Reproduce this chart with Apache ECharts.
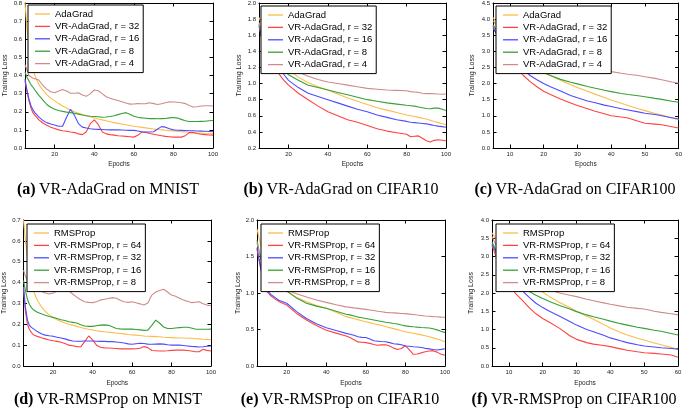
<!DOCTYPE html>
<html><head><meta charset="utf-8">
<script src="https://cdn.jsdelivr.net/npm/echarts@6/dist/echarts.min.js"></script>
<style>html,body{margin:0;padding:0;background:#fff}#c{width:685px;height:416px}</style>
</head><body><div id="c"></div>
<script>
// ---------------- data ----------------
const NAMES_ADA = ['AdaGrad', 'VR-AdaGrad, r = 32', 'VR-AdaGrad, r = 16', 'VR-AdaGrad, r = 8', 'VR-AdaGrad, r = 4'];
const NAMES_RMS = ['RMSProp', 'VR-RMSProp, r = 64', 'VR-RMSProp, r = 32', 'VR-RMSProp, r = 16', 'VR-RMSProp, r = 8'];
const CAPTIONS = [['(a)', 'VR-AdaGrad on MNIST'], ['(b)', 'VR-AdaGrad on CIFAR10'], ['(c)', 'VR-AdaGrad on CIFAR100'],
                  ['(d)', 'VR-RMSProp on MNIST'], ['(e)', 'VR-RMSProp on CIFAR10'], ['(f)', 'VR-RMSProp on CIFAR100']];

const EPOCHS_MNIST = [5,6,7,8,9,10,12,14,16,18,20,22,24,26,28,30,32,34,36,38,40,42,44,46,48,50,52,54,56,58,60,62,64,66,68,70,72,74,76,78,80,82,84,86,88,90,92,94,96,98,100];
const EPOCHS_C10A = [5,6,7,8,9,10,12,14,16,18,20,25,30,35,40,45,50,55,60,65,70,75,80,82,84,86,88,90,92,94,96,98,100];
const EPOCHS_C10R = [5,6,7,8,9,10,12,14,16,18,20,25,30,35,40,45,50,52,54,56,58,60,62,64,66,68,70,72,74,76,78,80,82,84,86,88,90,92,94,96,98,100];
const EPOCHS_C100 = [5,6,7,8,10,12,14,16,18,20,22,25,28,30,33,35,38,40,43,45,48,50,53,55,58,60];

const X_TICKS_100 = [20, 40, 60, 80, 100];
const X_TICKS_60 = [10, 20, 30, 40, 50, 60];

// (a) AdaGrad on MNIST
const A_BASE = [0.8,0.66,0.56,0.49,0.44,0.4, 0.35,0.32,0.295,0.275,0.26, 0.245,0.232,0.22,0.21,0.2,0.192,0.185,0.178,0.172,0.166, 0.16,0.155,0.15,0.145,0.14,0.136,0.132,0.128,0.124,0.12, 0.117,0.114,0.111,0.108,0.105,0.102,0.1,0.098,0.096,0.094, 0.092,0.09,0.088,0.087,0.085,0.083,0.082,0.08,0.079,0.078];
const A_R32 = [0.37,0.31,0.26,0.22,0.195,0.18, 0.155,0.138,0.125,0.115,0.108, 0.1,0.095,0.092,0.088,0.085,0.078,0.074,0.09,0.135,0.155, 0.13,0.09,0.078,0.074,0.071,0.068,0.066,0.064,0.062,0.06, 0.07,0.088,0.086,0.08,0.076,0.072,0.068,0.064,0.062,0.06, 0.06,0.06,0.068,0.085,0.086,0.08,0.076,0.074,0.072,0.071];
const A_R16 = [0.38,0.32,0.27,0.235,0.21,0.195, 0.17,0.152,0.14,0.132,0.127, 0.12,0.12,0.17,0.214,0.18,0.135,0.115,0.11,0.106,0.104, 0.103,0.102,0.101,0.1,0.1,0.1,0.099,0.098,0.097,0.097, 0.094,0.09,0.088,0.088,0.09,0.105,0.118,0.115,0.106,0.1, 0.098,0.097,0.096,0.095,0.095,0.094,0.093,0.092,0.091,0.09];
const A_R8 = [0.42,0.39,0.37,0.35,0.335,0.32, 0.29,0.265,0.24,0.225,0.214, 0.207,0.202,0.198,0.195,0.192,0.187,0.182,0.178,0.175,0.174, 0.172,0.17,0.171,0.174,0.178,0.184,0.19,0.195,0.186,0.175, 0.17,0.166,0.164,0.162,0.162,0.161,0.162,0.163,0.166,0.168, 0.165,0.158,0.15,0.146,0.146,0.146,0.147,0.148,0.15,0.152];
const A_R4 = [0.46,0.43,0.4,0.39,0.385,0.388, 0.375,0.345,0.325,0.31,0.305, 0.315,0.323,0.315,0.302,0.302,0.305,0.292,0.285,0.3,0.32, 0.316,0.3,0.283,0.275,0.268,0.262,0.255,0.248,0.242,0.243, 0.245,0.244,0.245,0.25,0.245,0.24,0.244,0.25,0.255,0.254, 0.252,0.25,0.245,0.235,0.226,0.228,0.232,0.233,0.233,0.232];

// (b) AdaGrad on CIFAR10
const B_BASE = [1.82,1.76,1.68,1.6,1.53,1.47,1.38,1.31,1.26,1.21,1.17, 1.08,1.01,0.96,0.92,0.87,0.82,0.78,0.74,0.7,0.67,0.64,0.61, 0.6,0.59,0.58,0.57,0.56,0.545,0.53,0.515,0.5,0.49];
const B_R32 = [1.72,1.6,1.52,1.45,1.39,1.34,1.24,1.16,1.09,1.03,0.98, 0.88,0.8,0.72,0.65,0.6,0.55,0.52,0.48,0.44,0.41,0.39,0.37, 0.34,0.345,0.35,0.32,0.29,0.275,0.295,0.303,0.297,0.29];
const B_R16 = [1.72,1.62,1.55,1.48,1.43,1.39,1.31,1.24,1.17,1.1,1.04, 0.95,0.88,0.84,0.8,0.76,0.72,0.68,0.65,0.61,0.58,0.55,0.53, 0.52,0.515,0.51,0.505,0.5,0.49,0.48,0.472,0.465,0.458];
const B_R8 = [1.74,1.65,1.58,1.5,1.45,1.4,1.32,1.26,1.2,1.15,1.11, 1.04,0.98,0.95,0.92,0.89,0.86,0.83,0.8,0.78,0.76,0.745,0.73, 0.725,0.72,0.71,0.7,0.69,0.688,0.695,0.695,0.68,0.665];
const B_R4 = [1.76,1.68,1.6,1.53,1.48,1.44,1.37,1.31,1.27,1.23,1.2, 1.14,1.09,1.05,1.02,1.0,0.98,0.96,0.94,0.93,0.92,0.915,0.91, 0.9,0.895,0.89,0.88,0.875,0.875,0.874,0.87,0.868,0.87];

// (c) AdaGrad on CIFAR100
const C_BASE = [4.05,3.9,3.74,3.58,3.3,3.05,2.85,2.66,2.5,2.37,2.25,2.1,1.96,1.88,1.76,1.68,1.57,1.49,1.39,1.32,1.22,1.16,1.07,1.02,0.93,0.875];
const C_R32 = [3.78,3.55,3.33,3.13,2.8,2.5,2.25,2.06,1.9,1.76,1.66,1.52,1.4,1.32,1.22,1.15,1.06,1.0,0.96,0.93,0.83,0.77,0.74,0.72,0.66,0.62];
const C_R16 = [3.72,3.55,3.38,3.22,2.95,2.68,2.42,2.25,2.12,2.0,1.9,1.77,1.63,1.56,1.46,1.41,1.33,1.29,1.22,1.18,1.12,1.08,1.04,1.0,0.94,0.9];
const C_R8 = [3.82,3.66,3.5,3.36,3.1,2.88,2.7,2.56,2.44,2.34,2.25,2.13,2.04,1.99,1.91,1.86,1.79,1.75,1.69,1.66,1.62,1.59,1.54,1.51,1.45,1.42];
const C_R4 = [3.95,3.82,3.7,3.6,3.4,3.22,3.08,2.96,2.86,2.78,2.71,2.62,2.54,2.5,2.45,2.42,2.39,2.37,2.32,2.29,2.25,2.21,2.16,2.12,2.05,2.01];

// (d) RMSProp on MNIST
const D_BASE = [0.7,0.6,0.52,0.45,0.4,0.36, 0.315,0.285,0.262,0.245,0.232, 0.222,0.213,0.206,0.2,0.196,0.19,0.185,0.18,0.176,0.173, 0.169,0.166,0.164,0.162,0.16,0.158,0.156,0.154,0.151,0.149, 0.148,0.146,0.144,0.143,0.142,0.141,0.14,0.138,0.137,0.136, 0.135,0.134,0.134,0.133,0.133,0.131,0.13,0.128,0.127,0.126];
const D_R64 = [0.37,0.26,0.2,0.175,0.16,0.15, 0.142,0.135,0.13,0.125,0.121, 0.118,0.114,0.108,0.1,0.097,0.093,0.092,0.117,0.144,0.125, 0.1,0.09,0.087,0.086,0.085,0.084,0.082,0.082,0.082,0.082, 0.083,0.085,0.093,0.088,0.074,0.073,0.072,0.072,0.073,0.075, 0.076,0.077,0.076,0.074,0.072,0.068,0.068,0.08,0.075,0.072];
const D_R32 = [0.38,0.28,0.22,0.195,0.185,0.178, 0.165,0.155,0.148,0.145,0.143, 0.138,0.134,0.13,0.124,0.12,0.119,0.119,0.12,0.12,0.12, 0.119,0.118,0.118,0.117,0.117,0.115,0.113,0.11,0.106,0.104, 0.107,0.109,0.108,0.105,0.104,0.105,0.106,0.105,0.102,0.1, 0.1,0.1,0.098,0.096,0.094,0.093,0.091,0.092,0.095,0.096];
const D_R16 = [0.41,0.36,0.32,0.295,0.28,0.27, 0.258,0.25,0.243,0.237,0.233, 0.228,0.222,0.218,0.212,0.209,0.206,0.198,0.192,0.19,0.19, 0.193,0.196,0.197,0.195,0.188,0.18,0.178,0.177,0.177,0.177, 0.175,0.173,0.171,0.172,0.195,0.22,0.205,0.187,0.18,0.18, 0.182,0.184,0.186,0.186,0.182,0.177,0.176,0.176,0.176,0.177];
const D_R8 = [0.46,0.43,0.41,0.395,0.383,0.372, 0.368,0.358,0.35,0.345,0.35, 0.36,0.365,0.368,0.36,0.344,0.33,0.318,0.308,0.305,0.304, 0.308,0.316,0.32,0.324,0.328,0.325,0.315,0.308,0.305,0.308, 0.303,0.298,0.292,0.302,0.34,0.355,0.362,0.368,0.355,0.34, 0.334,0.325,0.316,0.31,0.304,0.306,0.308,0.298,0.292,0.289];

// (e) RMSProp on CIFAR10
const E_BASE = [1.88,1.76,1.64,1.54,1.45,1.38,1.26,1.18,1.11,1.06,1.02, 0.94,0.88,0.83,0.79,0.735,0.676, 0.663,0.65,0.635,0.62,0.607,0.594,0.58,0.567,0.554,0.54,0.526,0.512,0.498,0.484,0.47,0.459,0.448,0.437,0.426,0.415,0.4,0.385,0.37,0.352,0.333];
const E_R64 = [1.6,1.45,1.32,1.2,1.1,1.02,0.96,0.92,0.885,0.86,0.835, 0.72,0.63,0.555,0.49,0.45,0.41, 0.39,0.36,0.33,0.325,0.32,0.31,0.295,0.285,0.29,0.29,0.275,0.245,0.225,0.24,0.28,0.22,0.16,0.165,0.18,0.196,0.205,0.21,0.19,0.16,0.146];
const E_R32 = [1.62,1.47,1.34,1.22,1.12,1.04,0.98,0.94,0.9,0.88,0.86, 0.745,0.65,0.58,0.525,0.485,0.447, 0.435,0.42,0.4,0.392,0.39,0.37,0.345,0.34,0.335,0.333,0.32,0.305,0.3,0.29,0.274,0.27,0.264,0.26,0.253,0.242,0.235,0.226,0.22,0.228,0.237];
const E_R16 = [1.72,1.58,1.46,1.36,1.28,1.2,1.12,1.08,1.06,1.045,1.03, 0.93,0.86,0.82,0.79,0.75,0.71, 0.7,0.685,0.67,0.66,0.65,0.64,0.63,0.62,0.61,0.6,0.592,0.583,0.575,0.562,0.55,0.543,0.537,0.532,0.528,0.525,0.52,0.51,0.495,0.475,0.457];
const E_R8 = [1.68,1.58,1.49,1.41,1.34,1.28,1.2,1.14,1.1,1.07,1.04, 0.99,0.945,0.905,0.872,0.84,0.81, 0.803,0.796,0.79,0.783,0.776,0.768,0.76,0.751,0.743,0.735,0.731,0.728,0.724,0.72,0.717,0.711,0.705,0.698,0.692,0.685,0.681,0.677,0.674,0.67,0.667];

// (f) RMSProp on CIFAR100
const F_BASE = [3.65,3.5,3.36,3.22,2.95,2.7,2.48,2.3,2.14,2.02,1.9,1.74,1.6,1.5,1.36,1.28,1.14,1.04,0.92,0.85,0.76,0.71,0.63,0.58,0.51,0.46];
const F_R64 = [3.3,3.05,2.82,2.6,2.25,1.98,1.8,1.6,1.43,1.3,1.2,1.03,0.83,0.73,0.64,0.6,0.56,0.53,0.47,0.43,0.39,0.365,0.345,0.33,0.3,0.24];
const F_R32 = [3.35,3.15,2.97,2.8,2.5,2.22,2.06,1.88,1.72,1.6,1.5,1.36,1.22,1.12,1.0,0.94,0.84,0.77,0.69,0.64,0.58,0.55,0.52,0.5,0.48,0.46];
const F_R16 = [3.4,3.2,3.05,2.9,2.6,2.36,2.2,2.04,1.94,1.85,1.77,1.66,1.56,1.49,1.4,1.35,1.28,1.23,1.16,1.12,1.06,1.03,0.98,0.95,0.89,0.85];
const F_R8 = [3.55,3.35,3.18,3.02,2.75,2.55,2.38,2.26,2.19,2.13,2.08,2.0,1.94,1.9,1.83,1.79,1.73,1.69,1.64,1.61,1.58,1.56,1.5,1.47,1.43,1.4];

// ---------------- styling / layout ----------------
const COLORS = ['#fbbd4a', '#ff4242', '#4c4cff', '#37a037', '#cf8a8a'];
const SANS = 'Liberation Sans';
const SERIF = 'Liberation Serif';

const PANELS = [
  {grid:{left:25, top:3, width:188, height:145}, ep:EPOCHS_MNIST, ys:[A_BASE,A_R32,A_R16,A_R8,A_R4], names:NAMES_ADA, xmax:100, xt:X_TICKS_100, ymin:0, ymax:0.8, yi:0.1, lg:{left:28, top:5}, ng:16.5, xg:13, cap:{x:108, y:190}},
  {grid:{left:259, top:3, width:187, height:145}, ep:EPOCHS_C10A, ys:[B_BASE,B_R32,B_R16,B_R8,B_R4], names:NAMES_ADA, xmax:100, xt:X_TICKS_100, ymin:0.2, ymax:2.0, yi:0.2, lg:{left:261, top:6}, ng:16.5, xg:13, cap:{x:341, y:190}},
  {grid:{left:493, top:3, width:188, height:145}, ep:EPOCHS_C100, ys:[C_BASE,C_R32,C_R16,C_R8,C_R4], names:NAMES_ADA, xmax:60, xt:X_TICKS_60, ymin:0, ymax:4.5, yi:0.5, lg:{left:496, top:6}, ng:17.5, xg:13, cap:{x:575, y:190}},
  {grid:{left:23, top:220, width:188, height:146}, ep:EPOCHS_MNIST, ys:[D_BASE,D_R64,D_R32,D_R16,D_R8], names:NAMES_RMS, xmax:100, xt:X_TICKS_100, ymin:0, ymax:0.7, yi:0.1, lg:{left:27, top:224}, ng:15.5, xg:14, cap:{x:108, y:400}},
  {grid:{left:257, top:220, width:188, height:146}, ep:EPOCHS_C10R, ys:[E_BASE,E_R64,E_R32,E_R16,E_R8], names:NAMES_RMS, xmax:100, xt:X_TICKS_100, ymin:0, ymax:2.0, yi:0.5, lg:{left:261, top:224}, ng:15.5, xg:14, cap:{x:340, y:400}},
  {grid:{left:492, top:220, width:186, height:146}, ep:EPOCHS_C100, ys:[F_BASE,F_R64,F_R32,F_R16,F_R8], names:NAMES_RMS, xmax:60, xt:X_TICKS_60, ymin:0, ymax:4.0, yi:0.5, lg:{left:496, top:224}, ng:17.5, xg:14, cap:{x:574, y:400}}
];

const option = {
  animation: false,
  backgroundColor: '#fff',
  grid: [], xAxis: [], yAxis: [], legend: [], series: [], graphic: []
};

const axisLine = {show: true, onZero: false, lineStyle: {color: '#000', width: 1}};
const tickStyle = {color: '#000', width: 1};
const labelStyle = {fontSize: 6, fontFamily: SANS, color: '#222', margin: 3};
const fmt = v => v.toFixed(1);

PANELS.forEach((p, i) => {
  option.grid.push(Object.assign({containLabel: false}, p.grid));
  option.xAxis.push({type:'value', gridIndex:i, position:'bottom', min:5, max:p.xmax,
    axisLine, splitLine:{show:false},
    axisTick:{show:true, inside:true, length:3.5, lineStyle:tickStyle, customValues:p.xt},
    axisLabel:Object.assign({customValues:p.xt}, labelStyle),
    name:'Epochs', nameLocation:'middle', nameGap:p.xg,
    nameTextStyle:{fontSize:6.5, fontFamily:SANS, color:'#222'}});
  option.yAxis.push({type:'value', gridIndex:i, position:'left', min:p.ymin, max:p.ymax, interval:p.yi,
    axisLine, splitLine:{show:false},
    axisTick:{show:true, inside:true, length:3.5, lineStyle:tickStyle},
    axisLabel:Object.assign({formatter:fmt}, labelStyle),
    name:'Training Loss', nameLocation:'middle', nameGap:p.ng,
    nameTextStyle:{fontSize:7, fontFamily:SANS, color:'#222'}});
});
PANELS.forEach((p, i) => {
  option.xAxis.push({type:'value', gridIndex:i, position:'top', min:5, max:p.xmax,
    axisLine, splitLine:{show:false},
    axisTick:{show:true, inside:true, length:3.5, lineStyle:tickStyle, customValues:p.xt},
    axisLabel:{show:false}});
  option.yAxis.push({type:'value', gridIndex:i, position:'right', min:p.ymin, max:p.ymax, interval:p.yi,
    axisLine, splitLine:{show:false},
    axisTick:{show:true, inside:true, length:3.5, lineStyle:tickStyle},
    axisLabel:{show:false}});
});

PANELS.forEach((p, i) => {
  p.ys.forEach((vals, k) => {
    option.series.push({
      type:'line', name:p.names[k], xAxisIndex:i, yAxisIndex:i,
      data:p.ep.map((e, j) => [e, vals[j]]),
      symbol:'none', showSymbol:false, smooth:false, clip:true,
      lineStyle:{color:COLORS[k], width:1.1}, itemStyle:{color:COLORS[k]},
      emphasis:{disabled:true}, silent:true, z:2
    });
  });
  option.legend.push({
    left:p.lg.left, top:p.lg.top, orient:'vertical', data:p.names.slice(),
    selectedMode:false, backgroundColor:'#fff', borderColor:'#000', borderWidth:1, borderRadius:0,
    padding:[3, 4, 3, 7], itemGap:0.4, itemWidth:15, itemHeight:1.3, icon:'rect',
    textStyle:{fontSize:9.5, fontFamily:SANS, color:'#000', lineHeight:12}, z:10
  });
  const c = CAPTIONS[i];
  option.graphic.push({
    type:'text', x:p.cap.x, y:p.cap.y,
    style:{
      text:'{b|' + c[0] + '} {n|' + c[1] + '}',
      align:'center', verticalAlign:'middle',
      rich:{
        b:{fontFamily:SERIF, fontWeight:'bold', fontSize:16, fill:'#000'},
        n:{fontFamily:SERIF, fontSize:16, fill:'#000'}
      }
    }
  });
});

const chart = echarts.init(document.getElementById('c'), null, {renderer:'canvas'});
chart.setOption(option);
</script></body></html>
